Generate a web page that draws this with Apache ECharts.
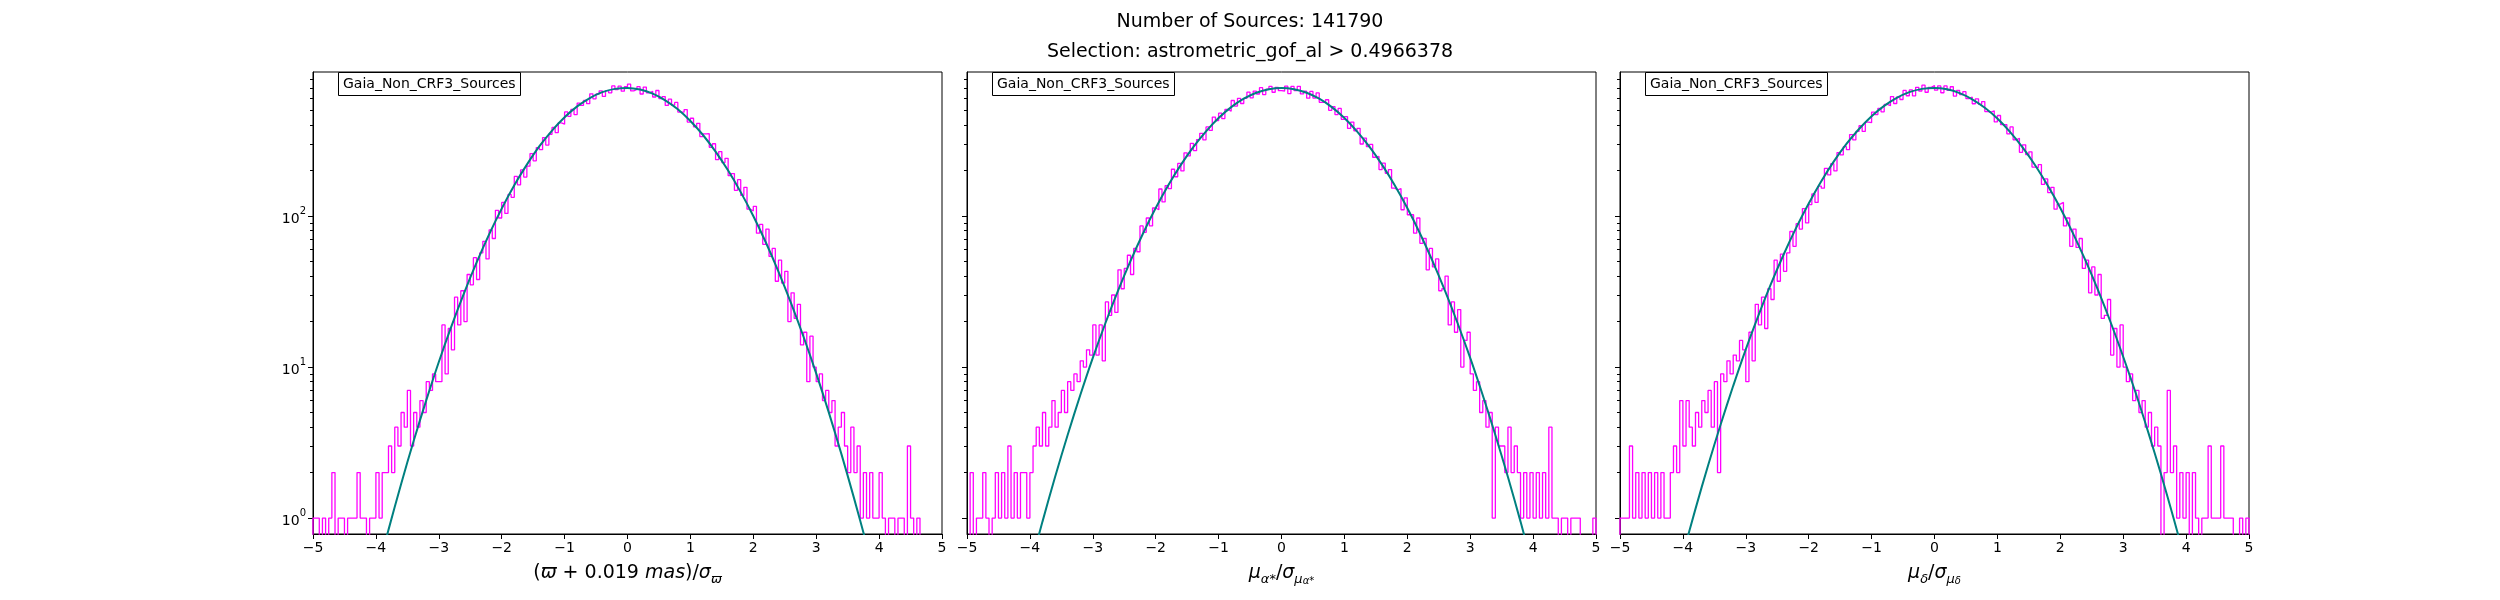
<!DOCTYPE html>
<html>
<head>
<meta charset="utf-8">
<title>Gaia_Non_CRF3_Sources</title>
<script src="https://cdn.jsdelivr.net/npm/echarts@6/dist/echarts.min.js"></script>
<style>
  html, body { margin: 0; padding: 0; background: #fff; }
  #main { width: 2500px; height: 600px; }
</style>
</head>
<body>
<div id="main"></div>
<script>
// histogram bins: 200 bins of 0.05 from -5 to 5 (counts)
var binStart = -5;
var binWidth = 0.05;

var p1Counts = [
  1,1,0,1,0,1,2,0,1,1, 0,1,1,1,2,1,1,0,1,1, 2,1,2,2,3,2,4,3,5,4, 7,3,5,4,6,5,8,7,9,8,
  8,19,9,18,13,29,19,32,20,41, 35,53,38,57,68,52,81,71,109,97,
  123,104,139,133,183,161,202,181,214,259, 232,284,275,331,295,348,386,357,414,406,
  489,457,508,470,560,540,582,555,645,597, 643,675,619,676,654,727,687,724,671,718,
  748,674,689,719,643,714,655,670,614,678, 599,618,540,594,542,565,488,488,507,419,
  444,390,411,336,350,351,285,301,236,267, 226,241,185,191,148,174,137,155,111,108,
  116,77,88,65,82,54,61,37,51,36, 43,20,31,21,26,14,17,8,16,10,
  8,9,6,7,5,6,3,4,5,3, 2,4,2,3,1,2,1,2,1,1, 2,1,0,1,1,0,1,1,0,3, 1,0,1,0,0,0,0,0,0,0
];

var p2Counts = [
  0,2,0,1,1,2,1,0,1,2, 1,2,1,3,1,2,1,2,2,1, 2,3,4,3,5,3,4,6,4,5, 7,5,8,7,9,8,11,10,13,12,
  19,12,19,11,27,22,30,23,44,33, 45,55,41,61,58,86,78,97,86,113,
  110,151,124,159,152,204,182,223,199,262, 250,303,271,321,353,319,389,369,452,428,
  480,442,508,494,582,535,602,556,601,661, 606,672,643,708,637,692,721,660,711,676,
  673,724,647,721,676,723,644,671,603,669, 604,653,566,566,589,501,531,470,516,437,
  455,380,419,367,381,300,328,288,298,245, 248,203,224,192,203,153,149,152,110,132,
  102,102,77,97,66,71,44,61,46,52, 32,33,40,19,27,17,24,10,15,17,
  9,7,8,5,6,4,5,1,4,3, 3,2,4,2,3,2,1,2,1,2, 1,2,1,2,1,4,1,1,0,1, 1,0,1,1,1,0,0,0,0,1
];

var p3Counts = [
  1,1,1,3,1,2,1,2,1,2, 1,2,1,2,1,1,2,3,2,6, 3,6,4,3,5,4,6,5,7,4, 8,2,9,8,11,9,12,11,15,13,
  8,17,11,26,19,29,18,33,28,51, 37,56,43,57,79,63,89,82,112,90,
  119,140,123,158,153,207,187,222,199,263, 254,288,275,346,319,363,396,363,419,415,
  488,470,517,490,548,538,618,556,616,591, 679,626,684,625,712,673,735,660,711,732,
  681,727,655,727,679,718,623,679,636,666, 599,613,554,597,549,573,492,488,497,420,
  463,403,403,350,389,320,327,264,296,255, 266,211,209,219,162,176,143,155,111,120,
  123,86,97,63,82,62,71,45,51,31, 46,30,41,21,22,28,12,18,10,19,
  10,8,9,6,7,5,6,4,5,3, 4,3,0,2,7,2,3,1,2,1, 2,0,2,1,0,1,1,3,1,1, 1,3,1,1,1,0,0,1,0,1
];

// fitted curve, sampled every 0.2
var curveX = [-4.4,-4.2,-4,-3.8,-3.6,-3.4,-3.2,-3,-2.8,-2.6,-2.4,-2.2,-2,-1.8,-1.6,-1.4,-1.2,-1,-0.8,-0.6,-0.4,-0.2,
  0,0.2,0.4,0.6,0.8,1,1.2,1.4,1.6,1.8,2,2.2,2.4,2.6,2.8,3,3.2,3.4,3.6,3.8,4,4.2,4.4];
var p1Fit = [0.082,0.186,0.401,0.835,1.675,3.24,6.01,10.8,18.6,30.8,49.1,75.6,112,160,219,290,368,451,532,604,661,695,
  705,688,646,584,509,426,344,267,200,144,100,66.8,42.9,26.5,15.8,9.08,5.01,2.66,1.36,0.673,0.320,0.146,0.064];
var p2Fit = [0.100,0.219,0.464,0.947,1.87,3.55,6.50,11.5,19.5,31.9,50.4,76.9,113,160,218,287,364,446,526,598,655,692,
  705,692,655,598,526,446,364,287,218,160,113,76.9,50.4,31.9,19.5,11.5,6.50,3.55,1.87,0.947,0.464,0.219,0.100];
var p3Fit = [0.127,0.275,0.573,1.15,2.23,4.16,7.51,13.1,21.9,35.5,55.4,83.4,121,170,230,300,377,458,536,606,661,695,
  705,690,651,593,521,442,361,285,217,159,113,77.1,50.8,32.3,19.8,11.7,6.70,3.68,1.96,1.00,0.496,0.237,0.109];

var yMajor = [1, 10, 100];
var yMinor = [2,3,4,5,6,7,8,9, 20,30,40,50,60,70,80,90, 200,300,400,500,600,700,800];
var yMin = 0.784, yMax = 899;

var titleLines = ['Number of Sources: 141790', 'Selection: astrometric_gof_al > 0.4966378'];
var legendText = 'Gaia_Non_CRF3_Sources';
var xNames = [
  '{n|(}{i|ϖ}{n| + 0.019 }{i|mas}{n|)/}{i|σ}{s|ϖ}',
  '{i|μ}{s|α*}{n|/}{i|σ}{s|μ}{ss|α*}',
  '{i|μ}{s|δ}{n|/}{i|σ}{s|μ}{ss|δ}'
];

var FONT = 'DejaVu Sans';
var gridLefts = [313, 967, 1620];
var gridWidth = 629, gridTop = 72, gridHeight = 462;
var ZERO = 0.1; // empty bins drop below the axis

function stepData(counts) {
  var pts = [[binStart, ZERO]];
  for (var i = 0; i < counts.length; i++) {
    pts.push([binStart + i * binWidth, counts[i] > 0 ? counts[i] : ZERO]);
  }
  var end = binStart + counts.length * binWidth;
  var last = counts[counts.length - 1];
  pts.push([end, last > 0 ? last : ZERO]);
  pts.push([end, ZERO]);
  return pts;
}

function curveData(vals) {
  return curveX.map(function (x, i) { return [x, vals[i]]; });
}

var counts = [p1Counts, p2Counts, p3Counts];
var fits = [p1Fit, p2Fit, p3Fit];

var nameRich = {
  n: { fontSize: 19, fontFamily: FONT, color: '#000', lineHeight: 26 },
  i: { fontSize: 19, fontFamily: FONT, fontStyle: 'italic', color: '#000', lineHeight: 26 },
  s: { fontSize: 13, fontFamily: FONT, fontStyle: 'italic', color: '#000', lineHeight: 26, verticalAlign: 'bottom' },
  ss: { fontSize: 10, fontFamily: FONT, fontStyle: 'italic', color: '#000', lineHeight: 26, verticalAlign: 'bottom' }
};

var grids = [], xAxes = [], yAxes = [], series = [];
var titles = [{
  text: titleLines.join('\n'),
  left: 'center',
  top: 2,
  textStyle: { fontSize: 19, fontWeight: 'normal', fontFamily: FONT, color: '#000', lineHeight: 30 }
}];

for (var g = 0; g < 3; g++) {
  grids.push({
    left: gridLefts[g], top: gridTop, width: gridWidth, height: gridHeight,
    show: true, borderColor: '#000', borderWidth: 1, backgroundColor: 'transparent'
  });

  xAxes.push({
    type: 'value', gridIndex: g, min: -5, max: 5, interval: 1,
    axisLine: { show: true, onZero: false, lineStyle: { color: '#000', width: 1 } },
    axisTick: { show: true, inside: false, length: 5, lineStyle: { color: '#000', width: 1 } },
    axisLabel: {
      color: '#000', fontSize: 14, fontFamily: FONT, margin: 7,
      formatter: function (v) { return String(v).replace('-', '\u2212'); }
    },
    splitLine: { show: false },
    name: xNames[g], nameLocation: 'middle', nameGap: 26,
    nameTextStyle: { rich: nameRich }
  });

  // major ticks + labels
  yAxes.push({
    type: 'log', logBase: 10, gridIndex: g, position: 'left', min: yMin, max: yMax,
    axisLine: { show: true, onZero: false, lineStyle: { color: '#000', width: 1 } },
    axisTick: { show: true, inside: false, length: 5, customValues: yMajor, lineStyle: { color: '#000', width: 1 } },
    axisLabel: {
      show: g === 0, customValues: yMajor, margin: 7,
      formatter: function (v) {
        return '{b|10}{p|' + Math.round(Math.log10(v)) + '}';
      },
      rich: {
        b: { fontSize: 14, fontFamily: FONT, color: '#000', lineHeight: 20, verticalAlign: 'bottom' },
        p: { fontSize: 10, fontFamily: FONT, color: '#000', lineHeight: 20, verticalAlign: 'top' }
      }
    },
    splitLine: { show: false }
  });
  // minor ticks
  yAxes.push({
    type: 'log', logBase: 10, gridIndex: g, position: 'left', min: yMin, max: yMax,
    axisLine: { show: false, onZero: false },
    axisTick: { show: true, inside: false, length: 3, customValues: yMinor, lineStyle: { color: '#000', width: 1 } },
    axisLabel: { show: false },
    splitLine: { show: false }
  });

  series.push({
    type: 'line', xAxisIndex: g, yAxisIndex: 2 * g,
    data: stepData(counts[g]), step: 'end',
    symbol: 'none', clip: true, z: 2,
    lineStyle: { color: '#ff00ff', width: 1.3 }
  });
  series.push({
    type: 'line', xAxisIndex: g, yAxisIndex: 2 * g,
    data: curveData(fits[g]), smooth: 0.3,
    symbol: 'none', clip: true, z: 3,
    lineStyle: { color: '#008080', width: 2 }
  });

  titles.push({
    text: legendText,
    left: gridLefts[g] + 25, top: gridTop,
    padding: [4, 5],
    borderColor: '#000', borderWidth: 1, backgroundColor: '#fff',
    textStyle: { fontSize: 14, fontWeight: 'normal', fontFamily: FONT, color: '#000', lineHeight: 16 },
    z: 10
  });
}

var option = {
  animation: false,
  backgroundColor: '#fff',
  title: titles,
  grid: grids,
  xAxis: xAxes,
  yAxis: yAxes,
  series: series
};

var myChart = echarts.init(document.getElementById('main'));
myChart.setOption(option);
</script>
</body>
</html>
